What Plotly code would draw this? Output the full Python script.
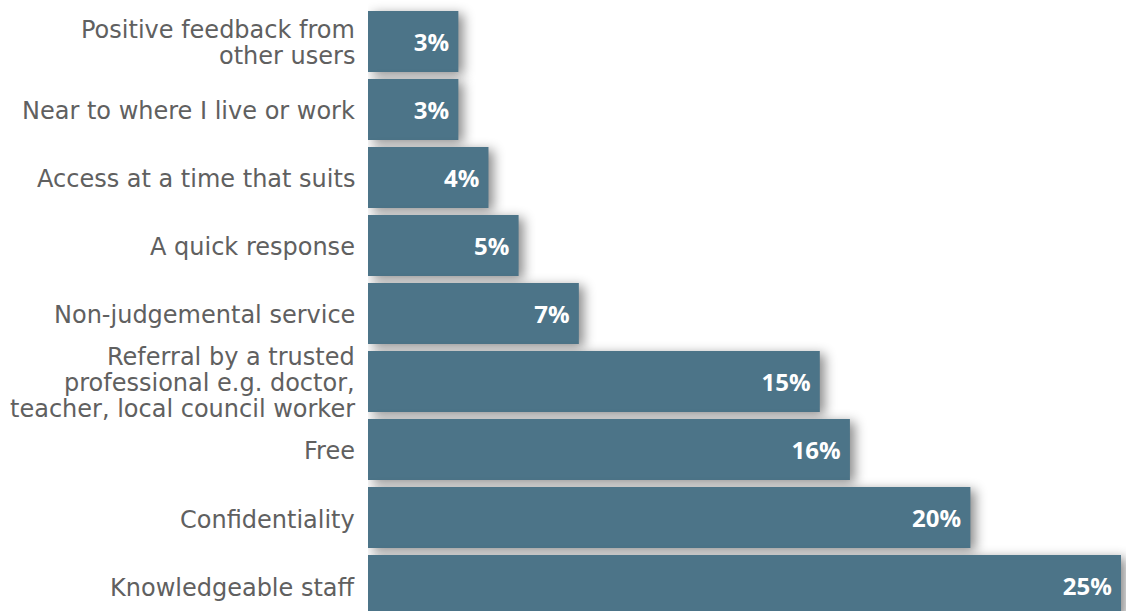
import plotly.graph_objects as go

# Reasons people chose the service (share of respondents, %)
categories = [
    "Positive feedback from<br>other users",
    "Near to where I live or work",
    "Access at a time that suits",
    "A quick response",
    "Non-judgemental service",
    "Referral by a trusted<br>professional e.g. doctor,<br>teacher, local council worker",
    "Free",
    "Confidentiality",
    "Knowledgeable staff",
]
values = [3, 3, 4, 5, 7, 15, 16, 20, 25]

BAR_COLOR = "#4c7488"
LABEL_COLOR = "#606060"
LABEL_FONT = dict(family="DejaVu Sans", size=24, color=LABEL_COLOR)
LINE_GAP = 26  # px between lines of a wrapped category label

fig = go.Figure(
    go.Bar(
        x=values,
        y=categories,
        orientation="h",
        marker=dict(color=BAR_COLOR, line=dict(width=0)),
        text=[f"{v}%\u00a0" for v in values],
        textposition="inside",
        insidetextanchor="end",
        textfont=dict(family="Open Sans", size=24, color="white", weight="bold"),
        constraintext="none",
        hoverinfo="skip",
    )
)

# Category labels, one annotation per line so the wrapped lines sit tightly
for cat in categories:
    lines = cat.split("<br>")
    n = len(lines)
    for k, line in enumerate(lines):
        fig.add_annotation(
            x=0, xref="paper", xanchor="right", xshift=-12,
            y=cat, yref="y", yanchor="middle",
            yshift=((n - 1) / 2 - k) * LINE_GAP - 2,
            text=line, showarrow=False, font=LABEL_FONT,
            borderpad=0,
        )

fig.update_layout(
    width=1126,
    height=611,
    margin=dict(l=368, r=0, t=0, b=0),
    paper_bgcolor="white",
    plot_bgcolor="white",
    bargap=0.103,
    showlegend=False,
    xaxis=dict(range=[0, 25.166], visible=False, fixedrange=True),
    yaxis=dict(
        range=[8.375, -0.61],
        showgrid=False,
        zeroline=False,
        showline=False,
        showticklabels=False,
        ticks="",
        fixedrange=True,
    ),
)

# soft drop shadow under each bar
shadow_js = """
document.querySelectorAll('.bars .point path').forEach(function(p){
  p.style.filter = 'drop-shadow(5px 3px 6px rgba(0,0,0,0.45))';
});
"""

fig.write_html("out.html", post_script=shadow_js, config={"displayModeBar": False})
